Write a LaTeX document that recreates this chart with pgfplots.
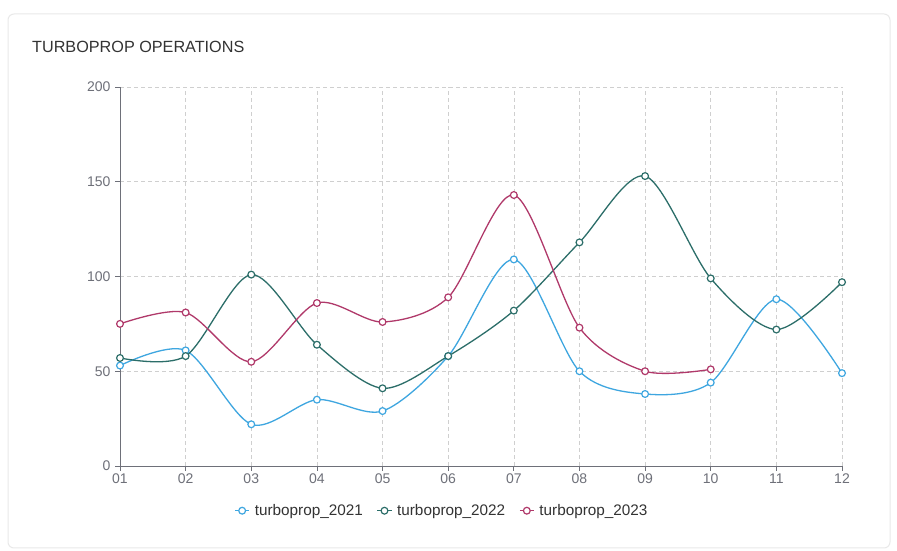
\documentclass[border=0pt]{standalone}
\usepackage{fontspec}
\setmainfont{Liberation Sans}
\usepackage{pgfplots}
\pgfplotsset{compat=1.18}
\definecolor{c21}{HTML}{3EA6E0}
\definecolor{c22}{HTML}{2C6E69}
\definecolor{c23}{HTML}{B0396A}
\definecolor{tickc}{HTML}{6E7079}
\definecolor{gridc}{HTML}{CFCFCF}
\definecolor{titlec}{HTML}{333333}
\definecolor{cardb}{HTML}{E9E9E9}
\begin{document}
\begin{tikzpicture}[x=1pt,y=1pt]
\path[use as bounding box, fill=white] (0,0) rectangle (897,551);
\draw[cardb, line width=1pt, fill=white, rounded corners=6pt] (8,3) rectangle (890,537);
\node[anchor=west, text=titlec, font=\fontsize{16.2}{19}\selectfont, inner sep=0pt] at (32,504) {TURBOPROP OPERATIONS};
\begin{axis}[
  at={(120pt,85pt)}, anchor=south west,
  scale only axis, width=722pt, height=379pt,
  xmin=1, xmax=12, ymin=0, ymax=200,
  xtick={1,...,12},
  xticklabels={01,02,03,04,05,06,07,08,09,10,11,12},
  ytick={0,50,100,150,200},
  axis lines*=left,
  axis line style={tickc, line width=0.8pt},
  tick style={tickc, line width=0.8pt},
  tick align=outside, major tick length=5pt,
  grid=major,
  major grid style={gridc, dash pattern=on 4pt off 3pt, line width=0.6pt},
  tick label style={text=tickc, font=\fontsize{14}{16}\selectfont},
  /pgf/number format/assume math mode=true,
  yticklabel style={xshift=-1pt},
  xticklabel style={yshift=1pt},
  legend columns=3,
  legend style={draw=none, fill=none, at={(0.446,-0.118)}, anchor=center,
    font=\fontsize{15.3}{17}\selectfont, text=titlec,
    /tikz/every odd column/.append style={column sep=3pt},
    /tikz/every even column/.append style={column sep=12pt}},
  legend image code/.code={\draw[mark repeat=2,mark phase=2] plot coordinates {(0pt,0pt)(7pt,0pt)(14pt,0pt)};},
  every axis plot/.append style={line width=1.3pt, smooth, tension=0.5, mark=*, mark size=3.4pt, mark options={fill=white, solid, line width=1.2pt}},
]
\addplot[c21] coordinates {(1,53)(2,61)(3,22)(4,35)(5,29)(6,58)(7,109)(8,50)(9,38)(10,44)(11,88)(12,49)};
\addlegendentry{turboprop\_2021}
\addplot[c22] coordinates {(1,57)(2,58)(3,101)(4,64)(5,41)(6,58)(7,82)(8,118)(9,153)(10,99)(11,72)(12,97)};
\addlegendentry{turboprop\_2022}
\addplot[c23] coordinates {(1,75)(2,81)(3,55)(4,86)(5,76)(6,89)(7,143)(8,73)(9,50)(10,51)};
\addlegendentry{turboprop\_2023}
\end{axis}
\end{tikzpicture}
\end{document}
